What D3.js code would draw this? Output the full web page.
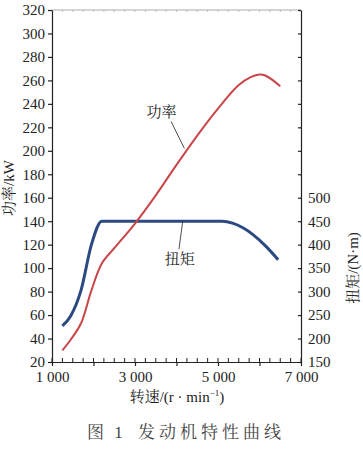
<!DOCTYPE html>
<html>
<head>
<meta charset="utf-8">
<script src="https://cdn.jsdelivr.net/npm/d3@7"></script>
<style>
  body { margin: 0; background: #fff; }
  svg text { font-family: "Liberation Serif", "Noto Serif CJK SC", "Noto Sans CJK SC", serif; }
</style>
</head>
<body>
<div id="chart"></div>
<script>
// engine speed (r/min)
var powerRpm = [1250, 1450, 1700, 1950, 2200, 2500, 3000, 3500, 4000, 4500, 5000, 5500, 5800, 6000, 6150, 6500]
var powerKw = [30, 39, 53, 81, 104, 117, 138, 162, 188, 213, 236, 256, 263, 265, 264, 255]
var torqueRpm = [1250, 1450, 1700, 1950, 2200, 3000, 4000, 5100, 5350, 5600, 5850, 6150, 6450]
var torqueNm = [227, 248, 303, 400, 450, 450, 450, 450, 446, 436, 421, 397, 368]
var xTicks = [1000, 2000, 3000, 4000, 5000, 6000, 7000]
var xLabelTicks = [1000, 3000, 5000, 7000]
var powerTicks = [20, 40, 60, 80, 100, 120, 140, 160, 180, 200, 220, 240, 260, 280, 300, 320]
var torqueLabelTicks = [150, 200, 250, 300, 350, 400, 450, 500]

var width = 363, height = 452
var margin = { top: 10, right: 62, bottom: 90, left: 52 }
var plotW = 301 - margin.left
var plotH = 362 - margin.top

var svg = d3.select('#chart')
    .append('svg')
    .attr('width', width)
    .attr('height', height)

var g = svg.append('g')
    .attr('transform', 'translate(' + margin.left + ',' + margin.top + ')')

var x = d3.scaleLinear().domain([1000, 7000]).range([0, plotW])
var yL = d3.scaleLinear().domain([20, 320]).range([plotH, 0])
// right axis shares the same grid: 20 kW step == 50 N·m step
var yR = d3.scaleLinear().domain([150, 900]).range([plotH, 0])

var fmt = d3.formatLocale({ decimal: '.', thousands: ' ', grouping: [3], currency: ['', ''] }).format(',')

// top frame (light, with small ticks)
g.append('line')
    .attr('x1', 0).attr('x2', plotW).attr('y1', 0).attr('y2', 0)
    .attr('stroke', '#aaa').attr('stroke-width', 1)
g.selectAll('.topTick')
    .data(d3.range(1000, 7001, 250))
    .enter().append('line')
    .attr('x1', d => x(d)).attr('x2', d => x(d))
    .attr('y1', 0).attr('y2', 2)
    .attr('stroke', '#bbb')

// bottom minor ticks (inward)
g.selectAll('.minorTick')
    .data(d3.range(1000, 7001, 250))
    .enter().append('line')
    .attr('x1', d => x(d)).attr('x2', d => x(d))
    .attr('y1', plotH).attr('y2', plotH - 4)
    .attr('stroke', '#222').attr('stroke-width', 1)

// x axis
var xAxis = g.append('g')
    .attr('transform', 'translate(0,' + plotH + ')')
    .call(d3.axisBottom(x)
        .tickValues(xTicks)
        .tickSizeInner(4)
        .tickSizeOuter(0)
        .tickPadding(5)
        .tickFormat(d => xLabelTicks.indexOf(d) >= 0 ? fmt(d) : ''))
xAxis.selectAll('text').style('font-size', '15px').attr('fill', '#222')
xAxis.selectAll('line, path').attr('stroke', '#222').attr('stroke-width', 1.2)

// left axis
var yAxisL = g.append('g')
    .call(d3.axisLeft(yL)
        .tickValues(powerTicks)
        .tickSizeInner(4)
        .tickSizeOuter(0)
        .tickPadding(3))
yAxisL.selectAll('text').style('font-size', '15px').attr('fill', '#222')
yAxisL.selectAll('line, path').attr('stroke', '#222').attr('stroke-width', 1.2)

// right axis, ticks inward, labels only 150-500
var yAxisR = g.append('g')
    .attr('transform', 'translate(' + plotW + ',0)')
    .call(d3.axisRight(yR)
        .tickValues(d3.range(150, 901, 50))
        .tickSizeInner(-3)
        .tickSizeOuter(0)
        .tickPadding(7)
        .tickFormat(d => torqueLabelTicks.indexOf(d) >= 0 ? d : ''))
yAxisR.selectAll('text').style('font-size', '15px').attr('fill', '#222')
yAxisR.selectAll('line, path').attr('stroke', '#222').attr('stroke-width', 1.2)

// curves
var powerLine = d3.line()
    .x((d, i) => x(powerRpm[i]))
    .y(d => yL(d))
    .curve(d3.curveCatmullRom.alpha(0.5))
var torqueLine = d3.line()
    .x((d, i) => x(torqueRpm[i]))
    .y(d => yR(d))
    .curve(d3.curveMonotoneX)

g.append('path')
    .datum(torqueNm)
    .attr('d', torqueLine)
    .attr('fill', 'none')
    .attr('stroke', '#2c4a82')
    .attr('stroke-width', 3)
    .attr('stroke-linejoin', 'round')
g.append('path')
    .datum(powerKw)
    .attr('d', powerLine)
    .attr('fill', 'none')
    .attr('stroke', '#c8464a')
    .attr('stroke-width', 2)

// annotations
g.append('line')
    .attr('x1', x(4190)).attr('y1', yL(202))
    .attr('x2', x(3870)).attr('y2', yL(225))
    .attr('stroke', '#222').attr('stroke-width', 0.8)
g.append('text')
    .attr('x', x(3640)).attr('y', yL(229))
    .attr('text-anchor', 'middle')
    .style('font-size', '15px')
    .attr('fill', '#222')
    .text('功率')

g.append('line')
    .attr('x1', x(4150)).attr('y1', yR(450))
    .attr('x2', x(4060)).attr('y2', yR(450) + 28)
    .attr('stroke', '#222').attr('stroke-width', 0.8)
g.append('text')
    .attr('x', x(4080)).attr('y', yR(450) + 43)
    .attr('text-anchor', 'middle')
    .style('font-size', '15px')
    .attr('fill', '#222')
    .text('扭矩')

// axis titles
svg.append('text')
    .attr('transform', 'translate(14,188) rotate(-90)')
    .attr('text-anchor', 'middle')
    .style('font-size', '15px')
    .attr('fill', '#222')
    .text('功率/kW')

svg.append('text')
    .attr('transform', 'translate(358,268) rotate(-90)')
    .attr('text-anchor', 'middle')
    .style('font-size', '15px')
    .attr('fill', '#222')
    .text('扭矩/(N·m)')

var xt = svg.append('text')
    .attr('x', 177).attr('y', 402)
    .attr('text-anchor', 'middle')
    .style('font-size', '15px')
    .attr('fill', '#222')
xt.append('tspan').text('转速/(r · min')
xt.append('tspan').attr('dy', -6).style('font-size', '9px').text('−1')
xt.append('tspan').attr('dy', 6).text(')')

// caption
svg.append('text')
    .attr('x', 87).attr('y', 438)
    .style('font-size', '17px')
    .style('letter-spacing', '3px')
    .attr('fill', '#444')
    .text('图 1')
svg.append('text')
    .attr('x', 138).attr('y', 438)
    .style('font-size', '17px')
    .style('letter-spacing', '4px')
    .attr('fill', '#444')
    .text('发动机特性曲线')
</script>
</body>
</html>
